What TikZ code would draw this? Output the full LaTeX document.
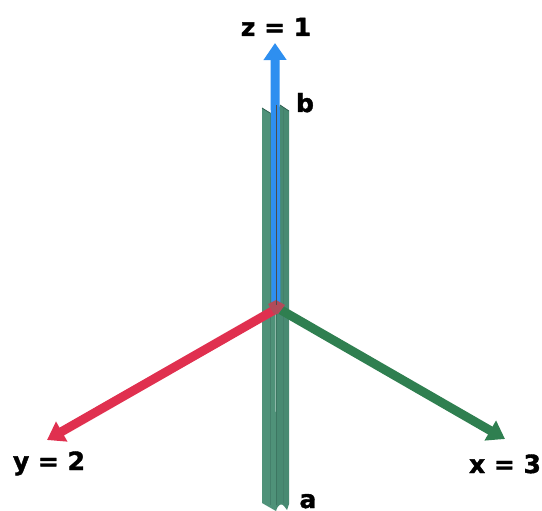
\documentclass[tikz,border=0pt]{standalone}
\usepackage{fontspec}
\setmainfont[BoldFeatures={FakeBold=1.6}]{DejaVu Sans}
\usetikzlibrary{arrows.meta}
\definecolor{beamA}{HTML}{4F9279}
\definecolor{beamB}{HTML}{488A72}
\definecolor{beamC}{HTML}{2F5F50}
\definecolor{axisZ}{HTML}{2E8FF0}
\definecolor{axisY}{HTML}{E0304F}
\definecolor{axisX}{HTML}{2F7F50}
\tikzset{
  px/.style={x=1pt,y=-1pt},
  lab/.style={font=\bfseries\fontsize{25}{25}\selectfont,text=black,inner sep=0pt,anchor=base},
  axisline/.style={line width=#1,-{Triangle[length=17pt,width=22pt]}},
}
\begin{document}
\begin{tikzpicture}[px]
\useasboundingbox (0,0) rectangle (542,511);
% beam
\fill[beamA] (262,108) -- (275,116) -- (276,511) -- (262,503) -- cycle;
\fill[beamB] (276,116) -- (280,105) -- (289,111) -- (289,504) -- (287,510) -- (284,506) .. controls (282,503) and (278,504) .. (276,511) -- cycle;
\draw[beamC,line width=0.8pt] (262,108) -- (275,116);
\draw[beamC,line width=0.8pt] (280,105) -- (289,111);
\draw[beamC!55!beamA,line width=0.9pt] (276,300) -- (276,505);
\draw[beamC!35!beamA,line width=1pt] (270,113) -- (270,505);
\draw[beamC!35!beamA,line width=1pt] (283,108) -- (283,503);
% axes
\coordinate (o) at (276,309);
\coordinate (zt) at (275,43);
\coordinate (yt) at (47,440);
\coordinate (xt) at (505,439);
\draw[axisline=9pt,axisZ] (276,312) -- (zt);
\draw[axisline=9pt,axisY] (o) -- (yt);
\draw[axisline=9pt,axisX] (281,310) -- (xt);
\fill[axisY!70!beamB] (268,304) -- (276,300) -- (285,305) -- (278,314) -- (274,314) -- cycle;
\draw[black!70,line width=0.7pt] (276,105) -- (276,305);
% labels
\node[lab] (z) at (276,36) {z = 1};
\node[lab] (y) at (49,470) {y = 2};
\node[lab] (x) at (505,473) {x = 3};
\node[lab] (b) at (305,112) {b};
\node[lab] (a) at (308,508) {a};
\end{tikzpicture}
\end{document}
